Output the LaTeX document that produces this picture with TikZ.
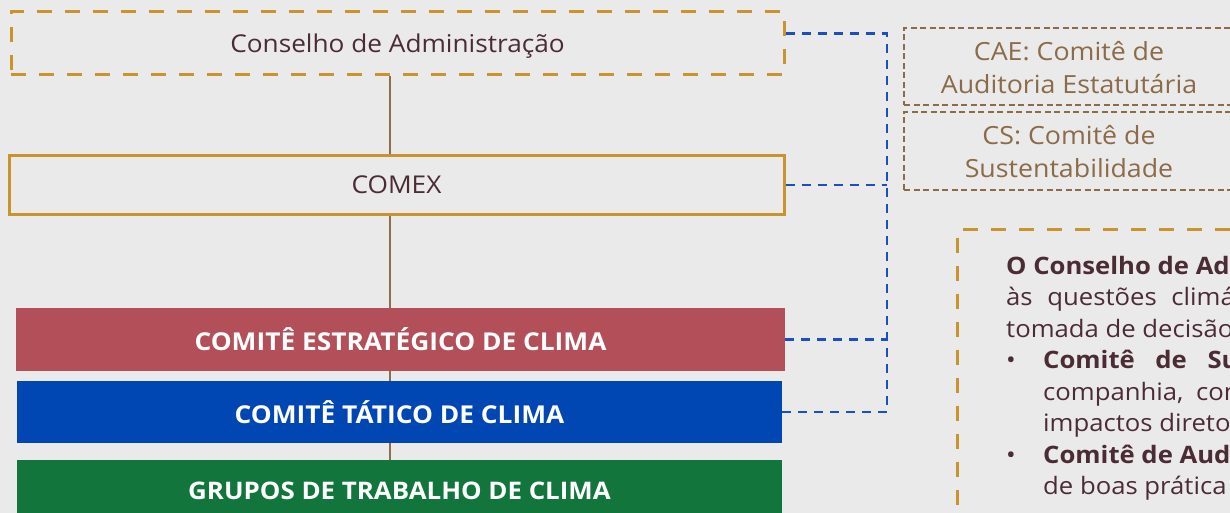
\documentclass[tikz,border=0pt]{standalone}
\usepackage{fontspec}
\setmainfont{Open Sans}[FakeStretch=1.07]
\usetikzlibrary{positioning}
\definecolor{bgc}{HTML}{EAEAEA}
\definecolor{gold}{HTML}{C9932E}
\definecolor{brownln}{HTML}{8C6D4C}
\definecolor{bluebar}{HTML}{0047B3}
\definecolor{bluedash}{HTML}{1A4FBF}
\definecolor{redbar}{HTML}{B34F59}
\definecolor{greenbar}{HTML}{12763C}
\definecolor{darktxt}{HTML}{4B2C35}
\definecolor{browntxt}{HTML}{8B6B48}
\pgfdeclarelayer{bg}
\pgfdeclarelayer{mid}
\pgfsetlayers{bg,mid,main}
\tikzset{
  goldbox/.style={draw=gold, line width=3pt, minimum height=#1, inner sep=0pt, text depth=0pt, text=darktxt, font=\fontsize{24.5}{30}\selectfont},
  goldbox/.default=63pt,
  golddash/.style={dash pattern=on 15pt off 13pt},
  barbox/.style={fill=#1, inner sep=0pt, minimum height=63pt, text=white, font=\bfseries\fontsize{24.6}{28}\selectfont},
  cbox/.style={draw=browntxt, line width=2.2pt, dash pattern=on 6pt off 3.5pt, inner sep=0pt},
  ctxt/.style={text=browntxt, align=center, inner sep=0pt, font=\fontsize{25}{33}\selectfont},
  busline/.style={draw=bluedash, line width=2.3pt, dash pattern=on 9pt off 7pt},
  stemline/.style={draw=brownln, line width=2pt},
  bodytxt/.style={anchor=base west, inner sep=0pt, text=darktxt, font=\fontsize{24}{30}\selectfont},
}
\begin{document}
\begin{tikzpicture}[x=1pt,y=-1pt]
\begin{pgfonlayer}{bg}
\fill[bgc] (0,0) rectangle (1230,513);
\end{pgfonlayer}
\useasboundingbox (0,0) rectangle (1230,513);
\clip (0,0) rectangle (1230,513);

% left column
\node[goldbox=63pt, golddash, minimum width=773pt] (cons) at (397.5,43.5) {Conselho de Administração};
\node[goldbox=58pt, minimum width=775pt] (comex) at (396.5,185) {COMEX};
\node[barbox=redbar, minimum width=769pt] (estr) at (400.5,339.5) {COMITÊ ESTRATÉGICO DE CLIMA};
\node[barbox=bluebar, minimum width=765pt, minimum height=62pt] (tat) at (399.5,412) {COMITÊ TÁTICO DE CLIMA};
\node[barbox=greenbar, minimum width=765pt, minimum height=62pt] (grp) at (399.5,491) {};
\node[text=white, font=\bfseries\fontsize{24.2}{28}\selectfont] (grpt) at (399.5,491) {GRUPOS DE TRABALHO DE CLIMA};

\begin{pgfonlayer}{mid}
\draw[stemline] (cons.south -| 390,0) -- (comex.north -| 390,0);
\draw[stemline] (comex.south -| 390,0) -- (grp.north -| 390,0);
\end{pgfonlayer}

% blue bus
\coordinate (busTop) at (887,33.5);
\coordinate (busBot) at (887,412);
\draw[busline] (cons.east |- busTop) -- (busTop) -- (busBot) -- (tat.east |- busBot);
\draw[busline] (comex.east) -- (comex.east -| busTop);
\draw[busline] (estr.east) -- (estr.east -| busTop);

% committees
\node[cbox, minimum width=400pt, minimum height=77pt] (cae) at (1104,66.5) {};
\node[ctxt] (caet) at (1069,68) {CAE: Comitê de\\Auditoria Estatutária};
\node[cbox, minimum width=400pt, minimum height=78pt] (cs) at (1104,151) {};
\node[ctxt] (cst) at (1069,152) {CS: Comitê de\\Sustentabilidade};

% description box
\node[draw=gold, line width=3pt, golddash, minimum width=400pt, minimum height=340pt, anchor=north west, inner sep=0pt] (desc) at (956,228) {};
\node[bodytxt] (l1) at (1006,274) {\textbf{O Conselho de Ad}};
\node[bodytxt] (l2) at (1006,305.5) {às\hspace{8pt} questões\hspace{8pt} climá};
\node[bodytxt] (l3) at (1006,337) {tomada de decisão};
\node[bodytxt] (b1) at (1006,368.5) {•};
\node[bodytxt] (l4) at (1043,368.5) {\textbf{Comitê\hspace{14pt} de\hspace{14pt} Su}};
\node[bodytxt] (l5) at (1043,400) {companhia,\hspace{6pt} con};
\node[bodytxt] (l6) at (1043,431.5) {impactos direto};
\node[bodytxt] (b2) at (1006,463) {•};
\node[bodytxt] (l7) at (1043,463) {\textbf{Comitê de Aud}};
\node[bodytxt] (l8) at (1043,494.5) {de boas prática};
\end{tikzpicture}
\end{document}
